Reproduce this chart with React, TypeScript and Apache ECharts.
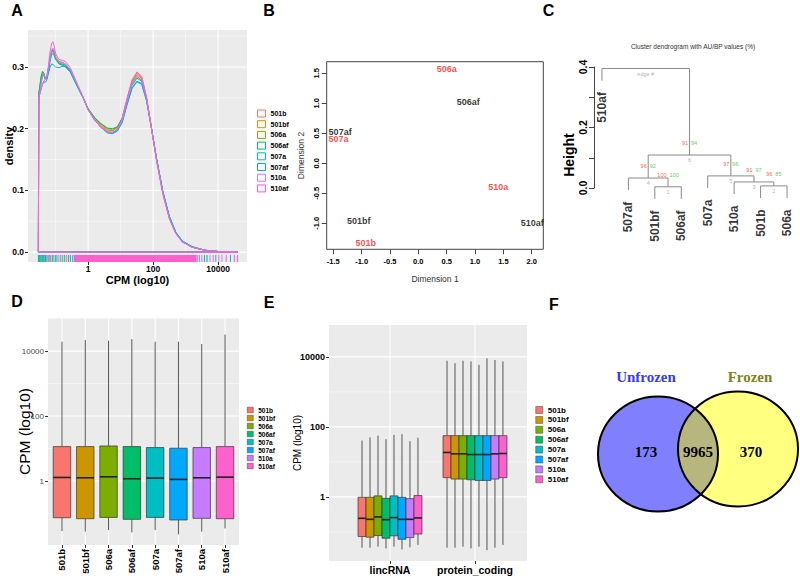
import React, { useEffect, useRef } from 'react';
import * as echarts from 'echarts';

const SAMPLES = ['501b', '501bf', '506a', '506af', '507a', '507af', '510a', '510af'];
const COLORS = ['#F8766D', '#CD9600', '#7CAE00', '#00BE67', '#00BFC4', '#00A9FF', '#C77CFF', '#FF61CC'];

// ---- Panel A: density of log10(CPM) ----
const DENS_X = [-1.53, -1.52, -1.48, -1.44, -1.4, -1.36, -1.32, -1.27, -1.22, -1.17, -1.12, -1.08, -1.04, -1.0, -0.9, -0.8, -0.7, -0.55, -0.35, -0.15, 0, 0.2, 0.4, 0.6, 0.75, 0.9, 1.05, 1.2, 1.35, 1.5, 1.65, 1.8, 1.95, 2.1, 2.3, 2.5, 2.7, 2.9, 3.2, 3.6, 4.0, 4.6];
const DENS_501B = [0, 0.250, 0.262, 0.276, 0.285, 0.288, 0.282, 0.283, 0.297, 0.315, 0.327, 0.330, 0.325, 0.317, 0.309, 0.308, 0.305, 0.296, 0.273, 0.250, 0.231, 0.215, 0.204, 0.197, 0.196, 0.202, 0.218, 0.249, 0.277, 0.290, 0.283, 0.250, 0.201, 0.151, 0.095, 0.055, 0.030, 0.017, 0.008, 0.003, 0.001, 0];
const DENS_501BF = [0, 0.254, 0.266, 0.280, 0.288, 0.286, 0.280, 0.284, 0.298, 0.314, 0.324, 0.325, 0.321, 0.315, 0.309, 0.307, 0.304, 0.295, 0.272, 0.250, 0.232, 0.217, 0.206, 0.198, 0.197, 0.202, 0.217, 0.248, 0.276, 0.288, 0.281, 0.249, 0.201, 0.152, 0.096, 0.056, 0.031, 0.017, 0.008, 0.003, 0.001, 0];
const DENS_506A = [0, 0.256, 0.270, 0.285, 0.292, 0.290, 0.282, 0.283, 0.296, 0.313, 0.325, 0.327, 0.322, 0.314, 0.306, 0.304, 0.301, 0.293, 0.271, 0.250, 0.233, 0.218, 0.208, 0.200, 0.199, 0.203, 0.217, 0.246, 0.273, 0.285, 0.279, 0.248, 0.201, 0.153, 0.097, 0.057, 0.031, 0.017, 0.008, 0.003, 0.001, 0];
const DENS_506AF = [0, 0.257, 0.272, 0.287, 0.293, 0.289, 0.281, 0.282, 0.297, 0.315, 0.327, 0.328, 0.322, 0.313, 0.305, 0.303, 0.300, 0.292, 0.270, 0.249, 0.232, 0.218, 0.208, 0.201, 0.200, 0.203, 0.216, 0.244, 0.270, 0.282, 0.277, 0.247, 0.201, 0.153, 0.097, 0.057, 0.032, 0.018, 0.008, 0.003, 0.001, 0];
const DENS_507A = [0, 0.253, 0.265, 0.279, 0.287, 0.287, 0.281, 0.281, 0.293, 0.309, 0.320, 0.322, 0.318, 0.312, 0.306, 0.305, 0.303, 0.294, 0.272, 0.250, 0.231, 0.214, 0.202, 0.194, 0.193, 0.197, 0.211, 0.240, 0.266, 0.277, 0.273, 0.245, 0.200, 0.153, 0.098, 0.058, 0.032, 0.018, 0.009, 0.003, 0.001, 0];
const DENS_507AF = [0, 0.250, 0.258, 0.266, 0.272, 0.276, 0.275, 0.279, 0.290, 0.300, 0.305, 0.304, 0.302, 0.300, 0.299, 0.301, 0.301, 0.293, 0.272, 0.250, 0.231, 0.214, 0.202, 0.193, 0.192, 0.196, 0.210, 0.239, 0.265, 0.276, 0.272, 0.245, 0.201, 0.154, 0.099, 0.058, 0.032, 0.018, 0.009, 0.003, 0.001, 0];
const DENS_510A = [0, 0.251, 0.262, 0.276, 0.285, 0.288, 0.283, 0.284, 0.298, 0.316, 0.328, 0.330, 0.324, 0.316, 0.308, 0.307, 0.305, 0.296, 0.273, 0.250, 0.231, 0.215, 0.203, 0.195, 0.194, 0.199, 0.214, 0.244, 0.272, 0.285, 0.279, 0.248, 0.200, 0.151, 0.095, 0.055, 0.030, 0.017, 0.008, 0.003, 0.001, 0];
const DENS_510AF = [0, 0.249, 0.257, 0.266, 0.273, 0.278, 0.279, 0.285, 0.303, 0.325, 0.339, 0.341, 0.333, 0.322, 0.312, 0.311, 0.309, 0.299, 0.275, 0.251, 0.231, 0.214, 0.202, 0.195, 0.194, 0.199, 0.216, 0.249, 0.279, 0.292, 0.285, 0.251, 0.201, 0.150, 0.094, 0.054, 0.030, 0.016, 0.008, 0.003, 0.001, 0];
const DENS_ALL = [DENS_501B, DENS_501BF, DENS_506A, DENS_506AF, DENS_507A, DENS_507AF, DENS_510A, DENS_510AF];
const RUG_X = [-1.53, -1.51, -1.49, -1.46, -1.43, -1.4, -1.37, -1.34, -1.31, -1.27, -1.23, -1.19, -1.15, -1.1, -1.06, -1.01, -0.96, -0.9, -0.84, -0.78, -0.72, -0.66, -0.6, -0.54, -0.48, -0.43, 3.36, 3.42, 3.5, 3.58, 3.66, 3.75, 3.85, 3.93, 4.02, 4.12, 4.25, 4.38, 4.5, 4.6];
const RUG_S = [4, 5, 3, 4, 2, 5, 4, 7, 3, 4, 5, 7, 2, 4, 6, 3, 5, 7, 4, 2, 5, 7, 3, 4, 7, 5, 6, 4, 7, 5, 3, 6, 7, 4, 7, 6, 7, 4, 7, 7];
const RUG_BAND = [-0.42, 3.34];
const A_X_TICKS = [0, 2, 4];
const A_X_MINOR = [-1, 1, 3];
const A_Y_TICKS = [0, 0.1, 0.2, 0.3];
const A_Y_MINOR = [0.05, 0.15, 0.25, 0.35];

// ---- Panel B: MDS plot ----
const MDS_NAMES = ['506a', '506af', '507af', '507a', '510a', '510af', '501bf', '501b'];
const MDS_X = [0.50, 0.88, -1.38, -1.41, 1.41, 2.01, -1.05, -0.93];
const MDS_Y = [1.567, 1.017, 0.52, 0.40, -0.39, -1.0, -0.96, -1.32];
const MDS_RED = [true, false, false, true, true, false, false, true];
const B_X_TICKS = [-1.5, -1, -0.5, 0, 0.5, 1, 1.5, 2];
const B_Y_TICKS = [-1, -0.5, 0, 0.5, 1, 1.5];

// ---- Panel C: dendrogram ----
const LEAVES = ['510af', '507af', '501bf', '506af', '507a', '510a', '501b', '506a'];
const MERGES = [[-3, -4], [-7, -8], [-6, 2], [-2, 1], [-5, 3], [4, 5], [-1, 6]];
const HEIGHTS = [0.004, 0.007, 0.02, 0.033, 0.04, 0.109, 0.395];
const AU = [100, 96, 91, 96, 97, 91];
const BP = [100, 85, 97, 92, 96, 94];
const HANG = 0.04;
const C_Y_TICKS = [0, 0.1, 0.2, 0.3, 0.4];
const C_Y_LABELS = [0, 0.2, 0.4];

// ---- Panel D: boxplots per sample (log10 CPM) ----
const D_MIN = [-1.54, -1.56, -1.51, -1.58, -1.51, -1.64, -1.56, -1.46];
const D_Q1 = [-1.13, -1.16, -1.12, -1.18, -1.12, -1.20, -1.15, -1.16];
const D_MED = [0.11, 0.10, 0.13, 0.07, 0.09, 0.05, 0.10, 0.12];
const D_Q3 = [1.06, 1.06, 1.08, 1.06, 1.03, 1.01, 1.03, 1.06];
const D_MAX = [4.29, 4.34, 4.32, 4.37, 4.29, 4.29, 4.22, 4.51];
const LOG_MAJOR = [0, 2, 4];

// ---- Panel E: boxplots per biotype ----
const E_GROUPS = ['lincRNA', 'protein_coding'];
const E_LINC_MIN = [-1.45, -1.45, -1.42, -1.47, -1.42, -1.50, -1.44, -1.37];
const E_LINC_Q1 = [-1.13, -1.15, -1.10, -1.18, -1.11, -1.21, -1.16, -1.06];
const E_LINC_MED = [-0.61, -0.64, -0.57, -0.65, -0.59, -0.64, -0.64, -0.60];
const E_LINC_Q3 = [-0.01, -0.01, 0.03, -0.04, 0.03, -0.01, -0.05, 0.04];
const E_LINC_MAX = [1.61, 1.70, 1.75, 1.65, 1.77, 1.79, 1.59, 1.69];
const E_PC_MIN = [-1.45, -1.45, -1.42, -1.47, -1.42, -1.52, -1.45, -1.37];
const E_PC_Q1 = [0.55, 0.51, 0.51, 0.49, 0.47, 0.47, 0.51, 0.55];
const E_PC_MED = [1.27, 1.23, 1.23, 1.21, 1.21, 1.21, 1.23, 1.24];
const E_PC_Q3 = [1.75, 1.75, 1.75, 1.75, 1.75, 1.75, 1.75, 1.75];
const E_PC_MAX = [3.89, 3.82, 3.89, 3.87, 3.77, 3.96, 3.91, 3.87];

// ---- Panel F: Venn ----
const VENN_SETS = ['Unfrozen', 'Frozen'];
const VENN_COUNTS = [173, 9965, 370];

const SANS = '"Liberation Sans", Arial, Helvetica, sans-serif';
const SERIF = '"Liberation Serif", "Times New Roman", serif';

const pow10 = (v: number) => String(Math.round(Math.pow(10, v)));

function gridLines(xMaj: number[], xMin: number[], yMaj: number[], yMin: number[]) {
  return [
    ...xMin.map((v) => [0, v, 0]),
    ...yMin.map((v) => [1, v, 0]),
    ...xMaj.map((v) => [0, v, 1]),
    ...yMaj.map((v) => [1, v, 1]),
  ];
}

const gridRender = (params: any, api: any) => {
  const cs = params.coordSys;
  const dir = api.value(0);
  const v = api.value(1);
  const lw = api.value(2) ? 1.1 : 0.5;
  if (dir === 0) {
    const x = api.coord([v, 0])[0];
    return { type: 'line', shape: { x1: x, y1: cs.y, x2: x, y2: cs.y + cs.height }, style: { stroke: '#FFFFFF', lineWidth: lw } };
  }
  const y = api.coord([0, v])[1];
  return { type: 'line', shape: { x1: cs.x, y1: y, x2: cs.x + cs.width, y2: y }, style: { stroke: '#FFFFFF', lineWidth: lw } };
};

function boxShape(cx: number, w: number, yMin: number, yQ1: number, yMed: number, yQ3: number, yMax: number, color: string) {
  return {
    type: 'group',
    children: [
      { type: 'line', shape: { x1: cx, y1: yMax, x2: cx, y2: yQ3 }, style: { stroke: '#555555', lineWidth: 1 } },
      { type: 'line', shape: { x1: cx, y1: yQ1, x2: cx, y2: yMin }, style: { stroke: '#555555', lineWidth: 1 } },
      { type: 'rect', shape: { x: cx - w / 2, y: yQ3, width: w, height: yQ1 - yQ3 }, style: { fill: color, stroke: '#333333', lineWidth: 0.7 } },
      { type: 'line', shape: { x1: cx - w / 2, y1: yMed, x2: cx + w / 2, y2: yMed }, style: { stroke: '#222222', lineWidth: 1.6 } },
    ],
  };
}

export default function App() {
  const ref = useRef<HTMLDivElement>(null);

  useEffect(() => {
    const el = ref.current;
    if (!el) return;
    const chart = echarts.init(el, null, { renderer: 'svg' });

    // dendrogram layout from merges
    const nodeX: number[] = [];
    const leafEnd: number[] = new Array(LEAVES.length).fill(0);
    const dendroLines: any[] = [];
    MERGES.forEach(([a, b], i) => {
      const h = HEIGHTS[i];
      const pos = (c: number) => (c < 0 ? -c : nodeX[c - 1]);
      const bot = (c: number) => {
        if (c < 0) {
          leafEnd[-c - 1] = h - HANG;
          return h - HANG;
        }
        return HEIGHTS[c - 1];
      };
      const xa = pos(a);
      const xb = pos(b);
      const ya = bot(a);
      const yb = bot(b);
      nodeX[i] = (xa + xb) / 2;
      dendroLines.push({ coords: [[xa, ya], [xa, h], [xb, h], [xb, yb]] });
    });
    const nodeLabels: any[] = [];
    const small = { fontSize: 5.5, fontFamily: SANS };
    for (let i = 0; i < AU.length; i++) {
      nodeLabels.push({ value: [nodeX[i], HEIGHTS[i]], label: { ...small, formatter: String(AU[i]), color: '#FF3030', align: 'right', verticalAlign: 'middle', offset: [-1.5, -12] } });
      nodeLabels.push({ value: [nodeX[i], HEIGHTS[i]], label: { ...small, formatter: String(BP[i]), color: '#30C030', align: 'left', verticalAlign: 'middle', offset: [1.5, -12] } });
      nodeLabels.push({ value: [nodeX[i], HEIGHTS[i]], label: { ...small, formatter: String(i + 1), color: '#A0A0A0', align: 'center', verticalAlign: 'middle', offset: [0, 5] } });
    }
    const ri = HEIGHTS.length - 1;
    nodeLabels.push({ value: [nodeX[ri], HEIGHTS[ri]], label: { ...small, formatter: 'edge #', color: '#A0A0A0', align: 'center', verticalAlign: 'middle', offset: [0, 5] } });

    // Venn geometry
    const V1 = { cx: 658, cy: 454, rx: 60, ry: 57.5 };
    const V2 = { cx: 738, cy: 449, rx: 60, ry: 57.5 };
    const inside = (e: any, x: number, y: number) => ((x - e.cx) / e.rx) ** 2 + ((y - e.cy) / e.ry) ** 2 <= 1;
    const lens: number[][] = [];
    for (let k = -180; k <= 180; k++) {
      const t = (k * Math.PI) / 180;
      const x = V1.cx + V1.rx * Math.cos(t);
      const y = V1.cy + V1.ry * Math.sin(t);
      if (inside(V2, x, y)) lens.push([x, y]);
    }
    for (let k = 0; k <= 360; k++) {
      const t = (k * Math.PI) / 180;
      const x = V2.cx + V2.rx * Math.cos(t);
      const y = V2.cy + V2.ry * Math.sin(t);
      if (inside(V1, x, y)) lens.push([x, y]);
    }

    const letter = (t: string, x: number, y: number) => ({
      type: 'text', x, y,
      style: { text: t, fontSize: 16, fontWeight: 'bold', fontFamily: SANS, fill: '#000', align: 'center', verticalAlign: 'middle' },
    });

    const tickStyle = { lineStyle: { color: '#333333', width: 1 } };

    const option: any = {
      animation: false,
      textStyle: { fontFamily: SANS },
      grid: [
        { left: 28, top: 30, width: 219, height: 232, show: true, backgroundColor: '#EBEBEB', borderWidth: 0, outerBoundsMode: 'none' },
        { left: 326.7, top: 61.7, width: 216.6, height: 187.6, show: true, backgroundColor: '#FFFFFF', borderColor: '#444444', borderWidth: 1, outerBoundsMode: 'none' },
        { left: 594, top: 67, width: 206, height: 121, show: false, outerBoundsMode: 'none' },
        { left: 48, top: 318, width: 191, height: 227, show: true, backgroundColor: '#EBEBEB', borderWidth: 0, outerBoundsMode: 'none' },
        { left: 329, top: 325, width: 198, height: 236, show: true, backgroundColor: '#EBEBEB', borderWidth: 0, outerBoundsMode: 'none' },
      ],
      xAxis: [
        {
          gridIndex: 0, type: 'value', min: -1.85, max: 4.89,
          axisLine: { show: false, onZero: false }, splitLine: { show: false },
          axisTick: { show: true, length: 3, customValues: A_X_TICKS, ...tickStyle },
          axisLabel: { customValues: A_X_TICKS, formatter: pow10, fontSize: 8.5, fontWeight: 'bold', color: '#000', margin: 2 },
          name: 'CPM (log10)', nameLocation: 'middle', nameGap: 12, nameMoveOverlap: false,
          nameTextStyle: { fontSize: 11, fontWeight: 'bold', color: '#000' },
        },
        {
          gridIndex: 1, type: 'value', min: -1.617, max: 2.205,
          axisLine: { show: false, onZero: false }, splitLine: { show: false },
          axisTick: { show: true, length: 5, customValues: B_X_TICKS, lineStyle: { color: '#444', width: 1 } },
          axisLabel: { customValues: B_X_TICKS, formatter: (v: number) => v.toFixed(1), fontSize: 7.5, fontWeight: 'bold', color: '#000', margin: 8 },
          name: 'Dimension 1', nameLocation: 'middle', nameGap: 25, nameMoveOverlap: false,
          nameTextStyle: { fontSize: 8.5, color: '#333' },
        },
        { gridIndex: 2, type: 'value', min: 0.7, max: 8.49, show: false },
        {
          gridIndex: 3, type: 'value', min: 0.4, max: 8.6,
          axisLine: { show: false, onZero: false }, splitLine: { show: false },
          axisTick: { show: true, length: 3, customValues: [1, 2, 3, 4, 5, 6, 7, 8], ...tickStyle },
          axisLabel: { customValues: [1, 2, 3, 4, 5, 6, 7, 8], formatter: (v: number) => SAMPLES[Math.round(v) - 1], rotate: 90, fontSize: 9.5, fontWeight: 'bold', color: '#000', margin: 4 },
        },
        {
          gridIndex: 4, type: 'value', min: 0.2824, max: 2.612,
          axisLine: { show: false, onZero: false }, splitLine: { show: false },
          axisTick: { show: true, length: 3, customValues: [1, 2], ...tickStyle },
          axisLabel: { customValues: [1, 2], formatter: (v: number) => E_GROUPS[Math.round(v) - 1], fontSize: 10.5, fontWeight: 'bold', color: '#000', margin: 3 },
        },
      ],
      yAxis: [
        {
          gridIndex: 0, type: 'value', min: -0.016, max: 0.36,
          axisLine: { show: false, onZero: false }, splitLine: { show: false },
          axisTick: { show: true, length: 3, customValues: A_Y_TICKS, ...tickStyle },
          axisLabel: { customValues: A_Y_TICKS, formatter: (v: number) => v.toFixed(1), fontSize: 8.5, fontWeight: 'bold', color: '#000', margin: 4 },
          name: 'density', nameLocation: 'middle', nameGap: 14, nameMoveOverlap: false,
          nameTextStyle: { fontSize: 11, fontWeight: 'bold', color: '#000' },
        },
        {
          gridIndex: 1, type: 'value', min: -1.433, max: 1.693,
          axisLine: { show: false, onZero: false }, splitLine: { show: false },
          axisTick: { show: true, length: 5, customValues: B_Y_TICKS, lineStyle: { color: '#444', width: 1 } },
          axisLabel: { customValues: B_Y_TICKS, formatter: (v: number) => v.toFixed(1), rotate: 90, fontSize: 7.5, fontWeight: 'bold', color: '#000', margin: 6 },
          name: 'Dimension 2', nameLocation: 'middle', nameGap: 21, nameMoveOverlap: false,
          nameTextStyle: { fontSize: 8.5, color: '#333' },
        },
        {
          gridIndex: 2, type: 'value', min: 0, max: 0.4,
          axisLine: { show: true, onZero: false, lineStyle: { color: '#444', width: 1 } }, splitLine: { show: false },
          axisTick: { show: true, length: 5, customValues: C_Y_TICKS, lineStyle: { color: '#444', width: 1 } },
          axisLabel: { customValues: C_Y_LABELS, formatter: (v: number) => v.toFixed(1), rotate: 90, fontSize: 10.5, fontWeight: 'bold', color: '#000', margin: 6 },
        },
        {
          gridIndex: 3, type: 'value', min: -1.97, max: 5.02,
          axisLine: { show: false, onZero: false }, splitLine: { show: false },
          axisTick: { show: true, length: 3, customValues: LOG_MAJOR, ...tickStyle },
          axisLabel: { customValues: LOG_MAJOR, formatter: pow10, fontSize: 8, color: '#4D4D4D', margin: 4 },
          name: 'CPM (log10)', nameLocation: 'middle', nameGap: 16, nameMoveOverlap: false,
          nameTextStyle: { fontSize: 15.5, color: '#000' },
        },
        {
          gridIndex: 4, type: 'value', min: -1.83, max: 4.91,
          axisLine: { show: false, onZero: false }, splitLine: { show: false },
          axisTick: { show: true, length: 3, customValues: LOG_MAJOR, ...tickStyle },
          axisLabel: { customValues: LOG_MAJOR, formatter: pow10, fontSize: 9, fontWeight: 'bold', color: '#000', margin: 4 },
          name: 'CPM (log10)', nameLocation: 'middle', nameGap: 27, nameMoveOverlap: false,
          nameTextStyle: { fontSize: 10, color: '#000' },
        },
      ],
      legend: [
        {
          left: 257, top: 109.5, orient: 'vertical', padding: 0, itemWidth: 8, itemHeight: 7, itemGap: 2.7, selectedMode: false,
          textStyle: { fontSize: 7, fontWeight: 'bold', color: '#000', fontFamily: SANS },
          data: SAMPLES.map((n, i) => ({ name: n, icon: 'rect', itemStyle: { color: '#F7F7F7', borderColor: COLORS[i], borderWidth: 1 } })),
        },
        {
          left: 247, top: 406.5, orient: 'vertical', padding: 0, itemWidth: 6, itemHeight: 5.5, itemGap: 1, selectedMode: false,
          textStyle: { fontSize: 6.5, fontWeight: 'bold', color: '#000', fontFamily: SANS },
          data: SAMPLES.map((n, i) => ({ name: n, icon: 'rect', itemStyle: { color: COLORS[i], borderColor: '#444', borderWidth: 0.5 } })),
        },
        {
          left: 535.5, top: 406, orient: 'vertical', padding: 0, itemWidth: 7, itemHeight: 7, itemGap: 1.9, selectedMode: false,
          textStyle: { fontSize: 8, fontWeight: 'bold', color: '#000', fontFamily: SANS },
          data: SAMPLES.map((n, i) => ({ name: n, icon: 'rect', itemStyle: { color: COLORS[i], borderColor: '#444', borderWidth: 0.5 } })),
        },
      ],
      series: [
        // A gridlines
        { type: 'custom', name: 'gA', xAxisIndex: 0, yAxisIndex: 0, z: 1, silent: true, renderItem: gridRender, data: gridLines(A_X_TICKS, A_X_MINOR, A_Y_TICKS, A_Y_MINOR) },
        // A rug
        {
          type: 'custom', name: 'rugA', xAxisIndex: 0, yAxisIndex: 0, z: 2, silent: true,
          renderItem: (params: any, api: any) => {
            const cs = params.coordSys;
            const x1 = api.coord([api.value(0), 0])[0];
            const x2 = api.coord([api.value(1), 0])[0];
            const w = Math.max(x2 - x1, 1);
            return { type: 'rect', shape: { x: x2 > x1 ? x1 : x1 - 0.5, y: cs.y + cs.height - 7, width: w, height: 7 }, style: { fill: COLORS[api.value(2)] } };
          },
          data: [[RUG_BAND[0], RUG_BAND[1], 7], ...RUG_X.map((x, i) => [x, x, RUG_S[i]])],
        },
        // A density curves
        ...SAMPLES.map((name, s) => ({
          type: 'line', name, xAxisIndex: 0, yAxisIndex: 0, z: 3, silent: true,
          symbol: 'none', showSymbol: false,
          lineStyle: { color: COLORS[s], width: 1 }, itemStyle: { color: COLORS[s] },
          data: [...DENS_X.map((x, i) => [x, DENS_ALL[s][i]]), [DENS_X[0], 0]],
        })),
        // B MDS labels
        {
          type: 'scatter', name: 'mds', xAxisIndex: 1, yAxisIndex: 1, symbolSize: 0, silent: true, clip: false,
          itemStyle: { color: 'rgba(0,0,0,0)' },
          label: { show: true, position: 'inside', formatter: '{b}', fontSize: 9, fontWeight: 'bold', fontFamily: SANS },
          data: MDS_NAMES.map((n, i) => ({ name: n, value: [MDS_X[i], MDS_Y[i]], label: { color: MDS_RED[i] ? '#FF1A1A' : '#000000' } })),
        },
        // C dendrogram
        {
          type: 'lines', name: 'dendro', coordinateSystem: 'cartesian2d', xAxisIndex: 2, yAxisIndex: 2, polyline: true, clip: false, silent: true,
          lineStyle: { color: '#8A8A8A', width: 1, opacity: 1 },
          data: dendroLines,
        },
        {
          type: 'scatter', name: 'leaves', xAxisIndex: 2, yAxisIndex: 2, symbolSize: 0, silent: true, clip: false,
          itemStyle: { color: 'rgba(0,0,0,0)' },
          label: { show: true, formatter: '{b}', position: 'bottom', distance: 11.5, rotate: 90, align: 'right', verticalAlign: 'middle', fontSize: 12, fontWeight: 'bold', color: '#000', fontFamily: SANS },
          data: LEAVES.map((n, k) => ({ name: n, value: [k + 1, leafEnd[k]] })),
        },
        {
          type: 'scatter', name: 'aubp', xAxisIndex: 2, yAxisIndex: 2, symbolSize: 0, silent: true, clip: false,
          itemStyle: { color: 'rgba(0,0,0,0)' },
          label: { show: true, position: 'inside' },
          data: nodeLabels,
        },
        // D gridlines + boxes
        { type: 'custom', name: 'gD', xAxisIndex: 3, yAxisIndex: 3, z: 1, silent: true, renderItem: gridRender, data: gridLines([1, 2, 3, 4, 5, 6, 7, 8], [], LOG_MAJOR, [-1, 1, 3, 5]) },
        {
          type: 'custom', name: 'boxD', xAxisIndex: 3, yAxisIndex: 3, z: 2, silent: true,
          encode: { x: 0, y: [1, 2, 3, 4, 5] },
          renderItem: (params: any, api: any) => {
            const x = api.value(0);
            const c = (d: number) => api.coord([x, api.value(d)]);
            const w = api.size([0.75, 0])[0];
            return boxShape(c(1)[0], w, c(1)[1], c(2)[1], c(3)[1], c(4)[1], c(5)[1], COLORS[api.value(6)]);
          },
          data: SAMPLES.map((_, i) => [i + 1, D_MIN[i], D_Q1[i], D_MED[i], D_Q3[i], D_MAX[i], i]),
        },
        // E gridlines + boxes
        { type: 'custom', name: 'gE', xAxisIndex: 4, yAxisIndex: 4, z: 1, silent: true, renderItem: gridRender, data: gridLines([1, 2], [], LOG_MAJOR, [-1, 1, 3]) },
        {
          type: 'custom', name: 'boxE', xAxisIndex: 4, yAxisIndex: 4, z: 2, silent: true,
          encode: { x: 0, y: [2, 3, 4, 5, 6] },
          renderItem: (params: any, api: any) => {
            const g = api.value(0);
            const s = api.value(1);
            const w = api.size([0.094, 0])[0];
            const c = (d: number) => api.coord([g, api.value(d)]);
            const cx = c(2)[0] + (s - 3.5) * w;
            return boxShape(cx, w, c(2)[1], c(3)[1], c(4)[1], c(5)[1], c(6)[1], COLORS[s]);
          },
          data: [
            ...SAMPLES.map((_, i) => [1, i, E_LINC_MIN[i], E_LINC_Q1[i], E_LINC_MED[i], E_LINC_Q3[i], E_LINC_MAX[i]]),
            ...SAMPLES.map((_, i) => [2, i, E_PC_MIN[i], E_PC_Q1[i], E_PC_MED[i], E_PC_Q3[i], E_PC_MAX[i]]),
          ],
        },
      ],
      graphic: [
        letter('A', 17, 10.5),
        letter('B', 269, 10),
        letter('C', 548.5, 10.5),
        letter('D', 17, 301.5),
        letter('E', 269, 302),
        letter('F', 554, 304.5),
        {
          type: 'text', x: 693, y: 46,
          style: { text: 'Cluster dendrogram with AU/BP values (%)', fontSize: 6.5, fontFamily: SANS, fill: '#333', align: 'center', verticalAlign: 'middle' },
        },
        {
          type: 'text', x: 569, y: 155, rotation: Math.PI / 2,
          style: { text: 'Height', fontSize: 14, fontWeight: 'bold', fontFamily: SANS, fill: '#000', align: 'center', verticalAlign: 'middle' },
        },
        { type: 'ellipse', shape: { cx: V1.cx, cy: V1.cy, rx: V1.rx, ry: V1.ry }, style: { fill: '#8080FF' } },
        { type: 'ellipse', shape: { cx: V2.cx, cy: V2.cy, rx: V2.rx, ry: V2.ry }, style: { fill: '#FFFF80' } },
        { type: 'polygon', shape: { points: lens }, style: { fill: '#B8B67F' } },
        { type: 'ellipse', shape: { cx: V1.cx, cy: V1.cy, rx: V1.rx, ry: V1.ry }, style: { fill: 'none', stroke: '#000', lineWidth: 2 } },
        { type: 'ellipse', shape: { cx: V2.cx, cy: V2.cy, rx: V2.rx, ry: V2.ry }, style: { fill: 'none', stroke: '#000', lineWidth: 2 } },
        { type: 'text', x: 646, y: 377, style: { text: VENN_SETS[0], fontSize: 15, fontWeight: 'bold', fontFamily: SERIF, fill: '#3A3AF5', align: 'center', verticalAlign: 'middle' } },
        { type: 'text', x: 750, y: 377, style: { text: VENN_SETS[1], fontSize: 15, fontWeight: 'bold', fontFamily: SERIF, fill: '#80801E', align: 'center', verticalAlign: 'middle' } },
        { type: 'text', x: 646, y: 452, style: { text: String(VENN_COUNTS[0]), fontSize: 15, fontWeight: 'bold', fontFamily: SERIF, fill: '#000', align: 'center', verticalAlign: 'middle' } },
        { type: 'text', x: 698, y: 452, style: { text: String(VENN_COUNTS[1]), fontSize: 15, fontWeight: 'bold', fontFamily: SERIF, fill: '#000', align: 'center', verticalAlign: 'middle' } },
        { type: 'text', x: 751, y: 452, style: { text: String(VENN_COUNTS[2]), fontSize: 15, fontWeight: 'bold', fontFamily: SERIF, fill: '#000', align: 'center', verticalAlign: 'middle' } },
      ],
    };

    chart.setOption(option);
    return () => chart.dispose();
  }, []);

  return <div ref={ref} style={{ position: 'absolute', left: 0, top: 0, width: 800, height: 579 }} />;
}
